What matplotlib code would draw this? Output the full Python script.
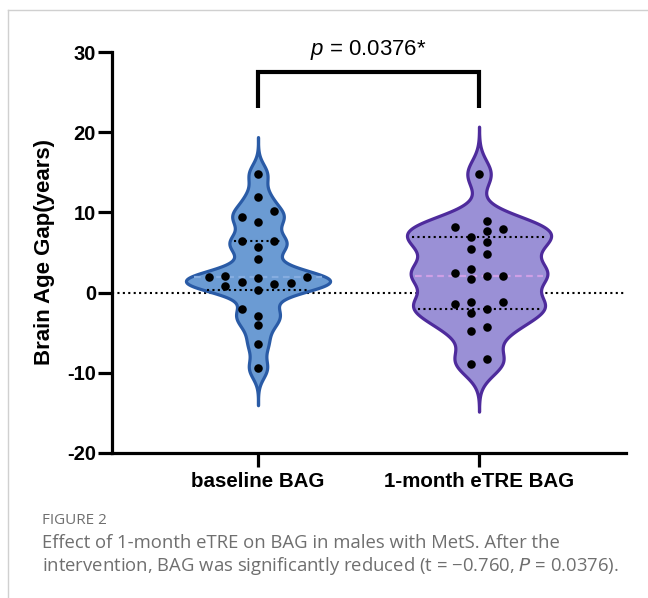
import numpy as np
import matplotlib
matplotlib.use("Agg")
import matplotlib.pyplot as plt
from matplotlib.lines import Line2D

plt.rcParams['font.family'] = ['Liberation Sans', 'DejaVu Sans']
plt.rcParams['mathtext.fontset'] = 'custom'
plt.rcParams['mathtext.rm'] = 'Liberation Sans'
plt.rcParams['mathtext.it'] = 'Liberation Sans:italic'

# ---------------- data ----------------
categories = ["baseline BAG", "1-month eTRE BAG"]
baseline_bag = [14.79, 11.96, 10.21, 9.43, 8.84, 6.47, 6.47, 5.72, 4.15,
                2.07, 1.91, 1.86, 1.91, 1.28, 0.86, 1.07, 1.16, 0.36,
                -2.04, -2.88, -4.04, -6.41, -9.44]
baseline_cols = [0, 0, 1, -1, 0, -1, 1, 0, 0,
                 -2, -3, 0, 3, -1, -2, 1, 2, 0,
                 -1, 0, 0, 0, 0]
etre_bag = [14.79, 8.97, 8.22, 7.97, 7.72, 6.90, 6.35, 5.44, 4.77,
            2.94, 2.48, 1.66, 2.07, 2.07, -1.17, -1.46, -1.13, -2.00,
            -2.58, -4.25, -4.75, -8.24, -8.94]
etre_cols = [0, 0.5, -1.5, 1.5, 0.5, -0.5, 0.5, -0.5, 0.5,
             -0.5, -1.5, -0.5, 0.5, 1.5, -0.5, -1.5, 1.5, 0.5,
             -0.5, 0.5, -0.5, 0.5, -0.5]
yticks = [-20, -10, 0, 10, 20, 30]
p_text = r"$p$ = 0.0376*"
ylabel = "Brain Age Gap(years)"
caption_head = "FIGURE 2"
caption_lines = ["Effect of 1-month eTRE on BAG in males with MetS. After the",
                 "intervention, BAG was significantly reduced (t = \u22120.760, $P$ = 0.0376)."]

# ---------------- styles ----------------
fills = ["#6b9bd3", "#9a90d6"]
edges = ["#2a5ba6", "#4e2b9c"]
median_cols = ["#86ade0", "#cf9fe6"]
bws = [1.25, 1.7]
cut_extent = [4.6, 5.9]
half_width = 0.326
col_step = 0.0738

fig = plt.figure(figsize=(6.48, 5.98), dpi=100)
W, H = 648, 598
ax = fig.add_axes([112 / W, 1 - 453 / H, (626 - 112) / W, (453 - 52) / H])
ax.set_xlim(0.3394, 2.665)
ax.set_ylim(-20, 30)

ax.axhline(0, color="black", lw=1.5, ls=(0, (1, 1.6)), zorder=1)

datasets = [baseline_bag, etre_bag]
colsets = [baseline_cols, etre_cols]
for i, (vals, cols) in enumerate(zip(datasets, colsets)):
    pos = i + 1
    v = np.asarray(vals, float)
    bw = bws[i]
    grid = np.linspace(v.min() - cut_extent[i], v.max() + cut_extent[i], 800)
    dens = np.exp(-0.5 * ((grid[:, None] - v[None, :]) / bw) ** 2).sum(axis=1)
    w = dens / dens.max() * half_width
    ax.fill_betweenx(grid, pos - w, pos + w, facecolor=fills[i], edgecolor=edges[i],
                     lw=2.3, zorder=2)
    q1, med, q3 = np.percentile(v, [25, 50, 75], method="weibull")
    wm = np.interp(med, grid, w)
    ax.plot([pos - wm + 0.02, pos + wm - 0.02], [med, med], color=median_cols[i],
            lw=1.6, ls=(0, (3, 2)), zorder=3)
    for q in (q1, q3):
        wq = np.interp(q, grid, w)
        ax.plot([pos - wq + 0.02, pos + wq - 0.02], [q, q], color="black",
                lw=1.5, ls=(0, (1, 1.6)), zorder=3)
    xs = pos + np.asarray(cols) * col_step
    ax.scatter(xs, v, s=38, color="black", zorder=4, linewidths=0)

# significance bracket
ax.plot([1, 1, 2, 2], [23.0, 27.5, 27.5, 23.0], color="black", lw=3.0,
        clip_on=False, solid_joinstyle="miter", solid_capstyle="butt", zorder=5)
ax.text(1.5, 30.25, p_text, ha="center", va="center", fontsize=16, clip_on=False)

# axes styling
for s in ["top", "right"]:
    ax.spines[s].set_visible(False)
for s in ["left", "bottom"]:
    ax.spines[s].set_linewidth(2.3)
ax.set_yticks(yticks)
ax.set_yticklabels([str(t) for t in yticks], fontsize=14.5, fontweight="bold")
ax.set_xticks([1, 2])
ax.set_xticklabels(categories, fontsize=14.8, fontweight="bold")
ax.tick_params(axis="both", length=10, width=2.3, direction="out")
ax.tick_params(axis="y", pad=1.5)
ax.tick_params(axis="x", pad=4)

fig.text(45 / W, 1 - 252 / H, ylabel, rotation=90, ha="center", va="center",
         fontsize=16, fontweight="bold")

# caption
cap_color = "#6f6f6f"
fig.text(42 / W, 1 - 521 / H, caption_head, ha="left", va="center", fontsize=11,
         color=cap_color, family=["Open Sans", "DejaVu Sans"])
for k, line in enumerate(caption_lines):
    fig.text(42 / W, 1 - (543 + 23 * k) / H, line, ha="left", va="center",
             fontsize=13.3, color=cap_color, family=["Open Sans", "DejaVu Sans"],
             math_fontfamily="dejavusans")

# frame lines
fig.add_artist(Line2D([8 / W, 1], [1 - 10 / H, 1 - 10 / H], transform=fig.transFigure,
                      color="#d0d0d0", lw=1))
fig.add_artist(Line2D([8 / W, 8 / W], [0, 1 - 10 / H], transform=fig.transFigure,
                      color="#d0d0d0", lw=1))

fig.savefig("out.png", dpi=100)
